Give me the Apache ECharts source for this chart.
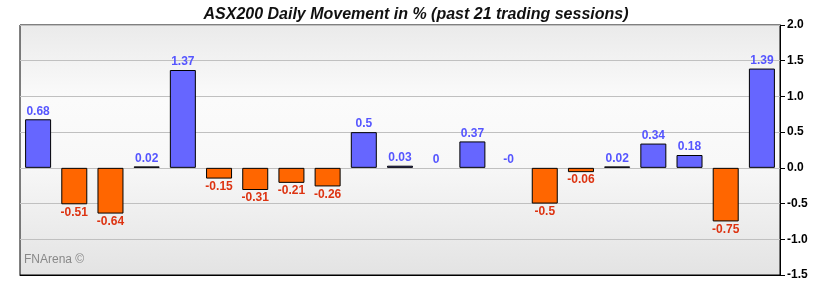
<!DOCTYPE html>
<html>
<head>
<meta charset="utf-8">
<script src="https://cdn.jsdelivr.net/npm/echarts@6/dist/echarts.min.js"></script>
<style>
  html, body { margin: 0; padding: 0; background: #fff; }
  #chart { width: 820px; height: 290px; }
</style>
</head>
<body>
<div id="chart"></div>
<script>
const sessions = ['1','2','3','4','5','6','7','8','9','10','11','12','13','14','15','16','17','18','19','20','21']
const movement = [0.68, -0.51, -0.64, 0.02, 1.37, -0.15, -0.31, -0.21, -0.26, 0.5, 0.03, 0, 0.37, -0, -0.5, -0.06, 0.02, 0.34, 0.18, -0.75, 1.39]
const yTicks = [-1.5, -1.0, -0.5, 0.0, 0.5, 1.0, 1.5, 2.0]

const isNeg = v => v < 0
const labelText = v => (Object.is(v, -0) ? '-0' : String(v))

const chart = echarts.init(document.getElementById('chart'))

chart.setOption({
  animation: false,
  title: {
    text: 'ASX200 Daily Movement in % (past 21 trading sessions)',
    left: 411,
    textAlign: 'center',
    top: 2,
    textStyle: {
      fontFamily: 'Liberation Sans',
      fontSize: 16,
      fontWeight: 'bold',
      fontStyle: 'italic',
      color: '#111'
    }
  },
  graphic: [{
    type: 'text',
    left: 24,
    top: 254,
    style: { text: 'FNArena ©', fontFamily: 'Liberation Sans', fontSize: 12, fill: '#888' }
  }],
  grid: {
    left: 20, right: 40, top: 25, bottom: 15,
    show: true,
    borderColor: '#000',
    borderWidth: 1,
    backgroundColor: new echarts.graphic.LinearGradient(0, 0, 0, 1, [
      { offset: 0, color: '#eaeaea' },
      { offset: 0.3, color: '#fbfbfb' },
      { offset: 0.55, color: '#f8f8f8' },
      { offset: 1, color: '#e3e3e3' }
    ])
  },
  xAxis: {
    type: 'category',
    data: sessions,
    axisLine: { onZero: false, lineStyle: { color: '#000' } },
    axisTick: { show: false },
    axisLabel: { show: false },
    splitLine: { show: false }
  },
  yAxis: {
    type: 'value',
    position: 'right',
    min: yTicks[0],
    max: yTicks[yTicks.length - 1],
    interval: 0.5,
    axisLine: { show: true, lineStyle: { color: '#000' } },
    axisTick: { show: true, length: 5, lineStyle: { color: '#000' } },
    axisLabel: {
      margin: 7,
      fontFamily: 'Liberation Sans',
      fontSize: 12,
      fontWeight: 'bold',
      color: '#000',
      formatter: v => v.toFixed(1)
    },
    splitLine: { show: true, lineStyle: { color: '#c0c0c0', width: 1 } }
  },
  series: [{
    type: 'bar',
    barWidth: 26,
    data: movement.map(v => ({
      value: v,
      itemStyle: {
        color: v === 0 ? 'transparent' : (isNeg(v) ? '#ff6600' : '#6666ff'),
        borderColor: '#000',
        borderWidth: v === 0 ? 0 : 1
      },
      label: {
        show: true,
        position: isNeg(v) ? 'bottom' : 'top',
        distance: 2,
        formatter: () => labelText(v),
        fontFamily: 'Liberation Sans',
        fontSize: 12,
        fontWeight: 'bold',
        color: isNeg(v) ? '#dd3311' : '#5555ff'
      }
    }))
  }]
})
</script>
</body>
</html>
